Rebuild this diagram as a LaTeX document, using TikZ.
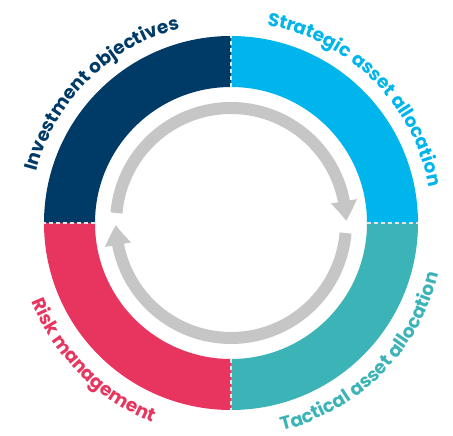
\documentclass[tikz,border=0pt]{standalone}
\usepackage{fontspec}
\setmainfont{Poppins}
\usetikzlibrary{arrows.meta,bending,decorations.text}
\definecolor{invnavy}{HTML}{003B68}
\definecolor{stratcyan}{HTML}{00B5EC}
\definecolor{tactteal}{HTML}{3BB3B7}
\definecolor{riskred}{HTML}{E83560}
\definecolor{cyclegray}{HTML}{C6C6C6}
\tikzset{
    % gray arrows of the cycle
    pil/.style={
           line width=12pt,
           draw=cyclegray,
           -{Triangle[width=25pt,length=20pt,bend]},}
}
\newcommand{\rin}{136pt}
\newcommand{\rout}{187pt}
\newcommand{\rarr}{115pt}
\newcommand{\rlabtop}{201pt}
\newcommand{\rlabbot}{214pt}
\newcommand{\labfont}{\bfseries\fontsize{18.5}{18.5}\selectfont}
% one quarter of the ring: colour, start angle, end angle
\newcommand{\ringpart}[3]{
  \fill[#1] (#2:\rin) -- (#2:\rout) arc[start angle=#2, end angle=#3, radius=\rout]
            -- (#3:\rin) arc[start angle=#3, end angle=#2, radius=\rin] -- cycle;
}

\begin{document}
\begin{tikzpicture}
\tikzstyle{divide}=[ draw=white!90!black,
                  line width=1.2pt,
                  dash pattern=on 4pt off 3pt]
\tikzstyle{lab}=[ decorate,
                  decoration={text along path, text align=center}]

\useasboundingbox (-231pt,-213pt) rectangle (222pt,223pt);

\ringpart{invnavy}{90}{180}
\ringpart{stratcyan}{0}{90}
\ringpart{tactteal}{-90}{0}
\ringpart{riskred}{180}{270}

\draw[divide] (0:\rin)   -- (0:\rout);
\draw[divide] (90:\rin)  -- (90:\rout);
\draw[divide] (180:\rin) -- (180:\rout);
\draw[divide] (270:\rin) -- (270:\rout);

\draw[pil] (175:\rarr) arc[start angle=175, end angle=1, radius=\rarr];
\draw[pil] (-5:\rarr)  arc[start angle=-5, end angle=-179, radius=\rarr];

\path[lab, decoration={text color=invnavy, text={|\labfont|Investment objectives}}]
  (180:\rlabtop) arc[start angle=180, end angle=90, radius=\rlabtop];
\path[lab, decoration={text color=stratcyan, text={|\labfont|Strategic asset allocation}}]
  (90:\rlabtop) arc[start angle=90, end angle=0, radius=\rlabtop];
\path[lab, decoration={text color=riskred, text={|\labfont|Risk management}}]
  (180:\rlabbot) arc[start angle=180, end angle=270, radius=\rlabbot];
\path[lab, decoration={text color=tactteal, text={|\labfont|Tactical asset allocation}}]
  (270:\rlabbot) arc[start angle=270, end angle=360, radius=\rlabbot];

\end{tikzpicture}
\end{document}
